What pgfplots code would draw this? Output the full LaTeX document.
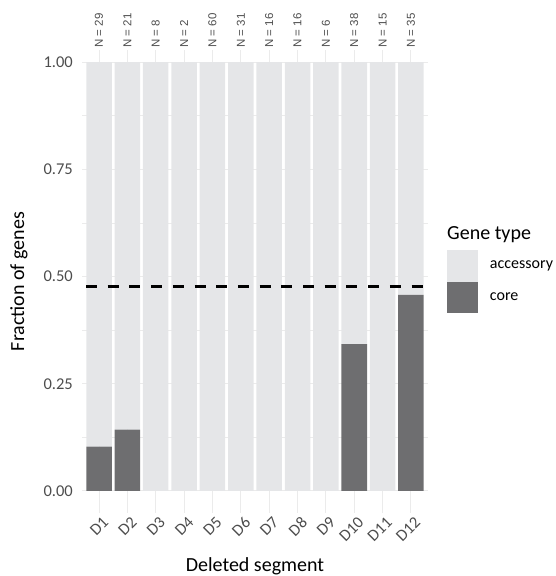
\documentclass[border=0pt]{standalone}
\usepackage{pgfplots}
\pgfplotsset{compat=1.18}
\usepackage{fontspec}
\setmainfont{Carlito}
\newfontfamily\nfont{Liberation Sans}
\definecolor{corec}{RGB}{110,110,112}
\definecolor{accc}{RGB}{229,230,232}
\definecolor{gridc}{RGB}{235,235,235}
\definecolor{tickc}{RGB}{77,77,77}
\tikzset{nlab/.style={rotate=90, anchor=west, inner sep=0pt, font=\nfont\fontsize{11.5}{13}\selectfont, text=tickc}}
\begin{document}
\begin{tikzpicture}
\path[use as bounding box] (-82pt,-63pt) rectangle (474pt,513pt);
\pgfplotsset{base/.style={scale only axis, width=346pt, height=463pt,
  xmin=0.4, xmax=12.6, ymin=-0.0513, ymax=1.028, clip=false}}
\begin{axis}[base,
  ybar stacked, bar width=0.9,
  axis line style={draw=none}, major tick length=0pt, minor tick length=0pt,
  tick style={draw=none},
  /pgf/number format/assume math mode=true,
  xtick={1,2,3,4,5,6,7,8,9,10,11,12},
  xticklabels={D1,D2,D3,D4,D5,D6,D7,D8,D9,D10,D11,D12},
  ytick={0,0.25,0.5,0.75,1},
  yticklabels={0.00,0.25,0.50,0.75,1.00},
  minor ytick={0.125,0.375,0.625,0.875},
  xmajorgrids, ymajorgrids, yminorgrids,
  major grid style={gridc, line width=1pt},
  minor grid style={gridc, line width=0.6pt},
  yticklabel style={font=\fontsize{16.5}{18}\selectfont, text=tickc, anchor=east, inner sep=0pt, xshift=-9pt},
  xticklabel style={font=\fontsize{16.5}{18}\selectfont, text=tickc, rotate=45, anchor=north east, inner sep=0pt, yshift=-4pt},
  xlabel={Deleted segment},
  ylabel={Fraction of genes},
  xlabel style={font=\fontsize{20}{24}\selectfont, anchor=base, at={(axis description cs:0.5,-0.1274)}},
  ylabel style={font=\fontsize{20}{24}\selectfont, anchor=base, at={(axis description cs:-0.1676,0.5)}},
  reverse legend,
  legend style={at={(axis description cs:1.0549,0.568)}, anchor=north west, draw=none, fill=none,
    inner sep=0pt, outer sep=0pt, row sep=0pt,
    nodes={inner sep=0pt, outer sep=0pt, anchor=west, font=\fontsize{16}{18}\selectfont},
    /tikz/every odd column/.style={column sep=12pt}},
  legend image code/.code={\fill[#1] (0pt,-15.75pt) rectangle (31pt,15.75pt);},
]
\addplot[fill=corec, draw=none]
  coordinates {(1,0.1034) (2,0.1429) (3,0) (4,0) (5,0) (6,0) (7,0) (8,0) (9,0) (10,0.3421) (11,0) (12,0.4571)};
\addlegendentry{core}
\addplot[fill=accc, draw=none]
  coordinates {(1,0.8966) (2,0.8571) (3,1) (4,1) (5,1) (6,1) (7,1) (8,1) (9,1) (10,0.6579) (11,1) (12,0.5429)};
\addlegendentry{accessory}
\node[nlab] at (axis cs:1,1.033) {N = 29};
\node[nlab] at (axis cs:2,1.033) {N = 21};
\node[nlab] at (axis cs:3,1.033) {N = 8};
\node[nlab] at (axis cs:4,1.033) {N = 2};
\node[nlab] at (axis cs:5,1.033) {N = 60};
\node[nlab] at (axis cs:6,1.033) {N = 31};
\node[nlab] at (axis cs:7,1.033) {N = 16};
\node[nlab] at (axis cs:8,1.033) {N = 16};
\node[nlab] at (axis cs:9,1.033) {N = 6};
\node[nlab] at (axis cs:10,1.033) {N = 38};
\node[nlab] at (axis cs:11,1.033) {N = 15};
\node[nlab] at (axis cs:12,1.033) {N = 35};
\end{axis}
\begin{axis}[base, hide axis]
\addplot[black, line width=3pt, dash pattern=on 11pt off 10.7pt, dash phase=17.7pt]
  coordinates {(0.4,0.476) (12.6,0.476)};
\end{axis}
\node[anchor=base west, inner sep=0pt, font=\fontsize{20}{24}\selectfont] at (365pt,273pt) {Gene type};
\end{tikzpicture}
\end{document}
